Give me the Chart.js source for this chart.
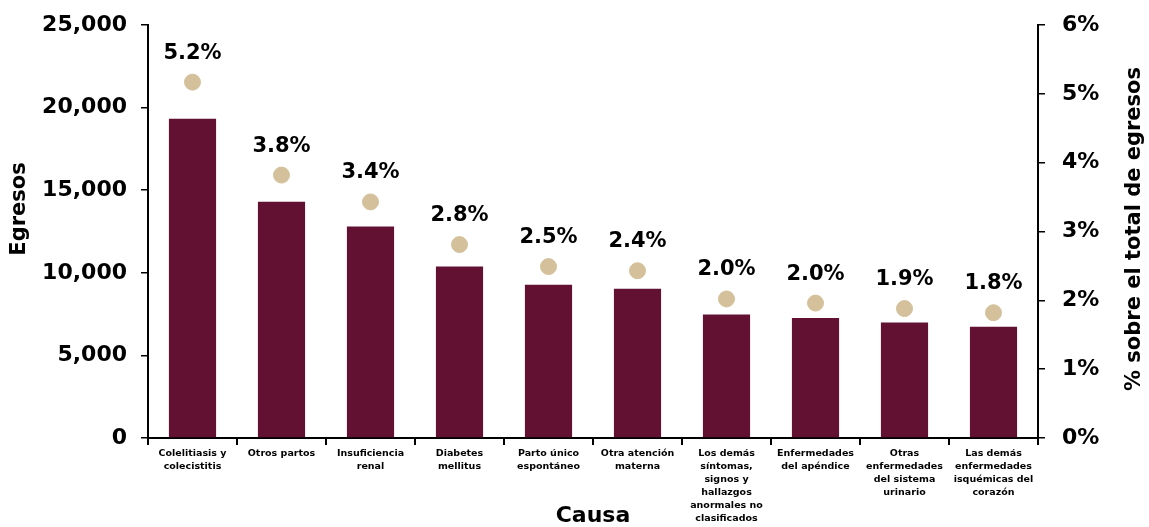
<!DOCTYPE html>
<html>
<head>
<meta charset="utf-8">
<script src="https://cdn.jsdelivr.net/npm/chart.js@4.4.1/dist/chart.umd.min.js"></script>
<style>
  html, body { margin: 0; padding: 0; background: #fff; }
  #wrap { width: 1149px; height: 527px; }
</style>
</head>
<body>
<div id="wrap"><canvas id="chart"></canvas></div>
<script>
// causes (multi-line labels as in the original)
const causas = [
  ["Colelitiasis y", "colecistitis"],
  ["Otros partos"],
  ["Insuficiencia", "renal"],
  ["Diabetes", "mellitus"],
  ["Parto único", "espontáneo"],
  ["Otra atención", "materna"],
  ["Los demás", "síntomas,", "signos y", "hallazgos", "anormales no", "clasificados"],
  ["Enfermedades", "del apéndice"],
  ["Otras", "enfermedades", "del sistema", "urinario"],
  ["Las demás", "enfermedades", "isquémicas del", "corazón"]
];
const egresos = [19330, 14300, 12800, 10380, 9270, 9030, 7470, 7270, 6990, 6740];
const porcentaje = [5.17, 3.82, 3.43, 2.81, 2.49, 2.43, 2.02, 1.96, 1.88, 1.82];
const etiquetasPct = ["5.2%", "3.8%", "3.4%", "2.8%", "2.5%", "2.4%", "2.0%", "2.0%", "1.9%", "1.8%"];

const FONT = "'DejaVu Sans', 'Open Sans', sans-serif";
const GUINDA = "#621132";
const DORADO = "#D4C19C";

// percent labels above the dots, and both vertical axis titles (read upward)
const extras = {
  id: "extras",
  afterDatasetsDraw(chart) {
    const ctx = chart.ctx;
    const meta = chart.getDatasetMeta(0);
    ctx.save();
    ctx.fillStyle = "#000";
    ctx.font = "bold 21px " + FONT;
    ctx.textAlign = "center";
    ctx.textBaseline = "middle";
    meta.data.forEach((pt, i) => {
      ctx.fillText(etiquetasPct[i], pt.x, pt.y - 29);
    });

    ctx.font = "bold 21px " + FONT;
    ctx.save();
    ctx.translate(20, 209);
    ctx.rotate(-Math.PI / 2);
    ctx.fillText("Egresos", 0, 0);
    ctx.restore();

    ctx.translate(1135, 229);
    ctx.rotate(-Math.PI / 2);
    ctx.fillText("% sobre el total de egresos", 0, 0);
    ctx.restore();
  }
};

new Chart(document.getElementById("chart"), {
  type: "bar",
  data: {
    labels: causas,
    datasets: [
      {
        type: "scatter",
        label: "% sobre el total de egresos",
        data: porcentaje,
        yAxisID: "y1",
        backgroundColor: DORADO,
        borderColor: DORADO,
        pointRadius: 8,
        pointHoverRadius: 8,
        showLine: false
      },
      {
        label: "Egresos",
        data: egresos,
        yAxisID: "y",
        backgroundColor: GUINDA,
        barPercentage: 0.53,
        categoryPercentage: 1.0
      }
    ]
  },
  options: {
    responsive: true,
    maintainAspectRatio: false,
    animation: false,
    layout: { padding: { top: 25, left: 0, right: 0, bottom: 0 } },
    plugins: {
      legend: { display: false },
      tooltip: { enabled: false }
    },
    scales: {
      x: {
        type: "category",
        offset: true,
        grid: {
          display: true,
          drawOnChartArea: false,
          offset: true,
          color: "#000",
          lineWidth: 2,
          tickLength: 7
        },
        border: { display: true, color: "#000", width: 2 },
        ticks: {
          color: "#000",
          maxRotation: 0,
          autoSkip: false,
          padding: 2,
          font: { family: FONT, size: 9.5, weight: "bold", lineHeight: 1.36 }
        },
        title: {
          display: true,
          text: "Causa",
          color: "#000",
          padding: { top: 0, bottom: -2 },
          font: { family: FONT, size: 22, weight: "bold" }
        },
        afterFit(scale) { scale.height = 89; }
      },
      y: {
        position: "left",
        min: 0,
        max: 25000,
        grid: {
          display: true,
          drawOnChartArea: false,
          color: "#000",
          lineWidth: 1.5,
          tickLength: 7
        },
        border: { display: true, color: "#000", width: 2 },
        ticks: {
          stepSize: 5000,
          color: "#000",
          padding: 14,
          font: { family: FONT, size: 22, weight: "bold" },
          callback: v => v.toLocaleString("en-US")
        },
        afterFit(scale) { scale.width = 148; scale.paddingTop = 0; }
      },
      y1: {
        position: "right",
        min: 0,
        max: 6,
        grid: {
          display: true,
          drawOnChartArea: false,
          color: "#000",
          lineWidth: 1.5,
          tickLength: 7
        },
        border: { display: true, color: "#000", width: 2 },
        ticks: {
          stepSize: 1,
          color: "#000",
          padding: 17,
          font: { family: FONT, size: 22, weight: "bold" },
          callback: v => v + "%"
        },
        afterFit(scale) { scale.width = 111; scale.paddingTop = 0; }
      }
    }
  },
  plugins: [extras]
});
</script>
</body>
</html>
